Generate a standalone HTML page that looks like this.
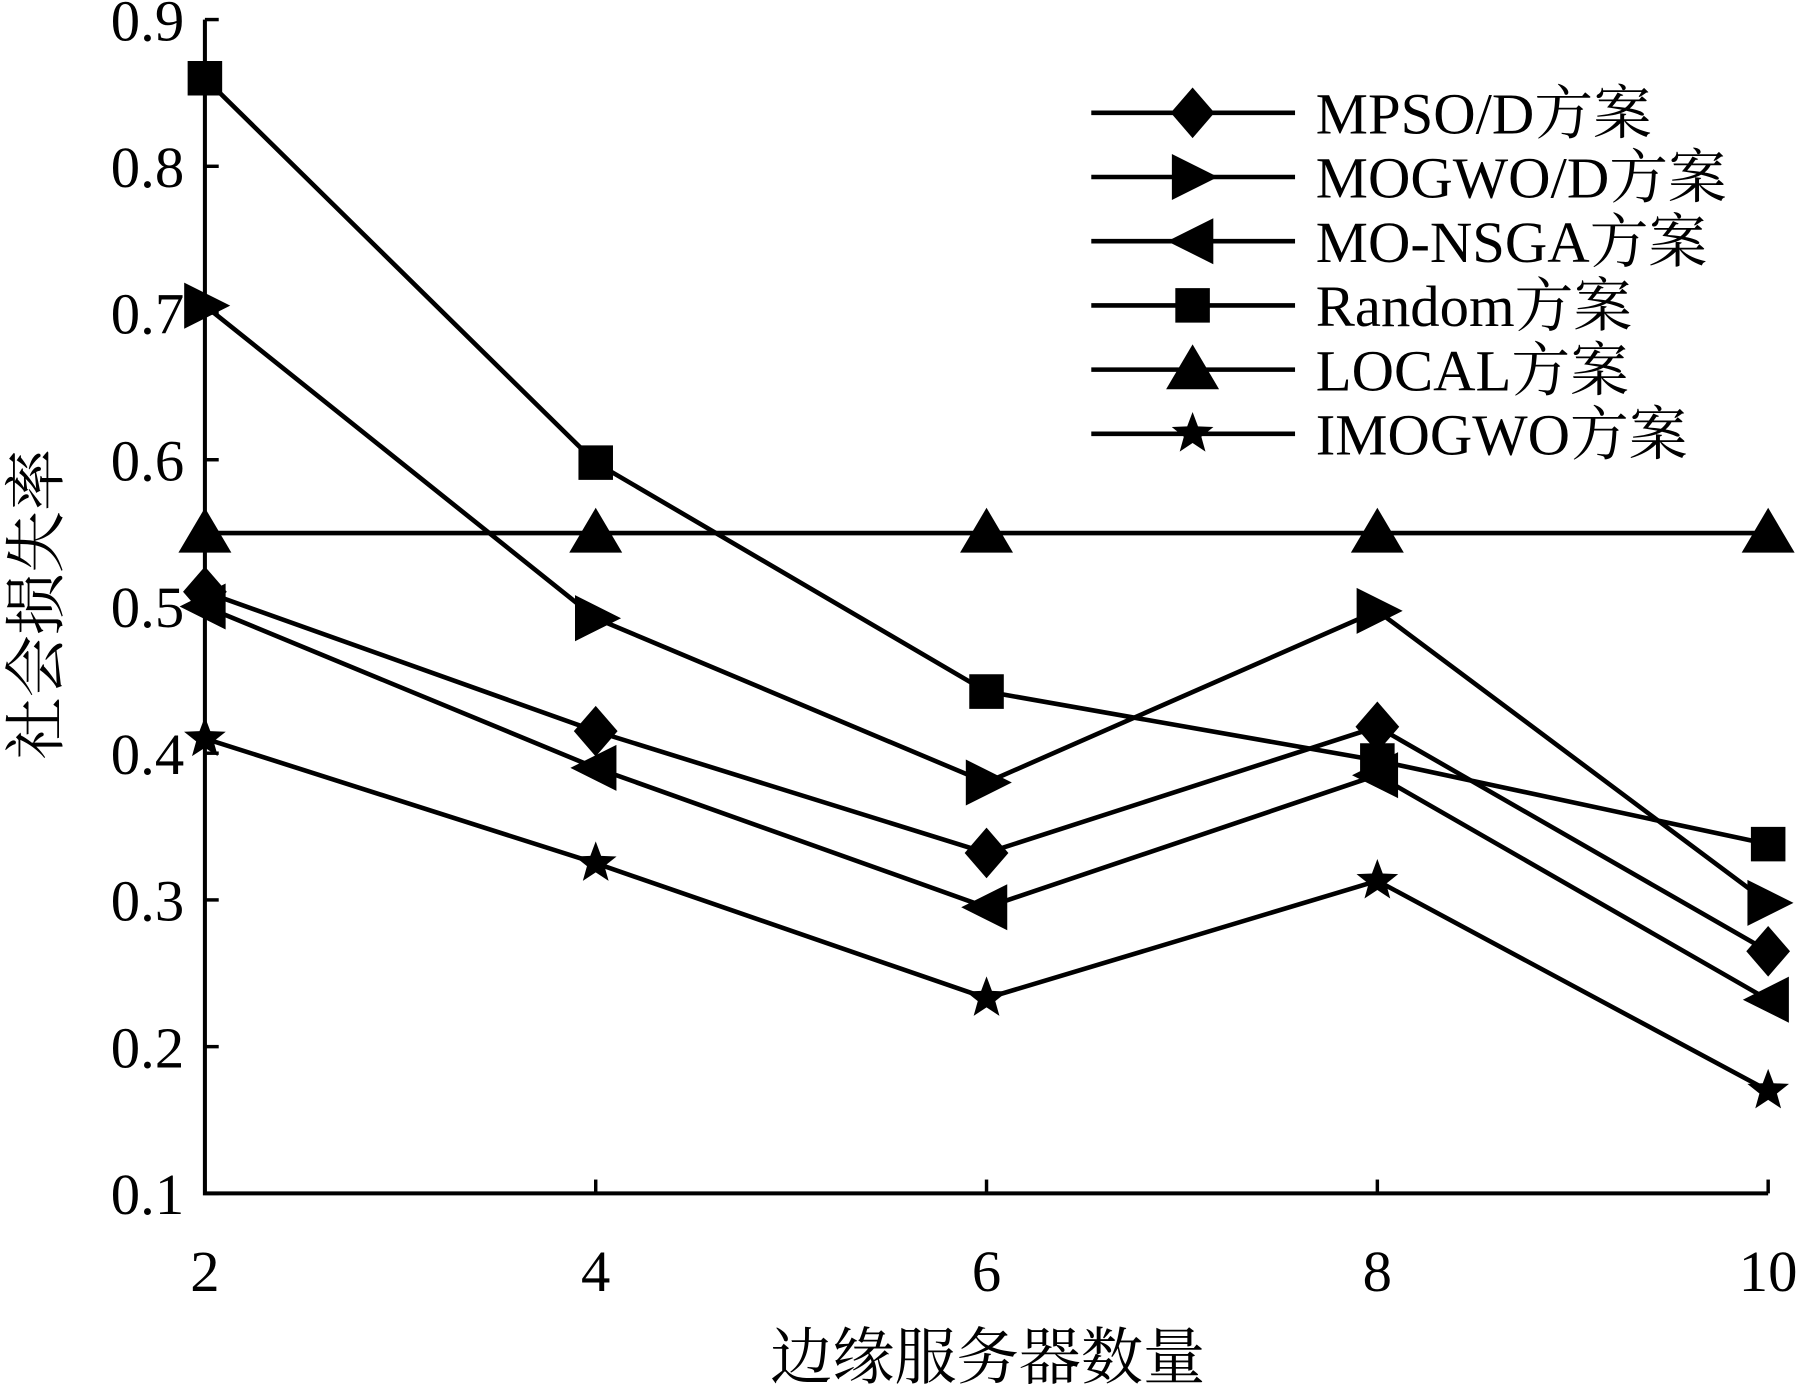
<!DOCTYPE html>
<html><head><meta charset="utf-8"><style>
html,body{margin:0;padding:0;background:#fff;}
svg text{font-family:"Liberation Serif","Noto Serif CJK SC","Noto Sans CJK SC",serif;fill:#000;}
</style></head><body>
<svg id="chart" width="1805" height="1389" viewBox="0 0 1568 1207" preserveAspectRatio="none" xmlns="http://www.w3.org/2000/svg">
<g id="axes"></g><g id="series"></g><g id="legend"></g>
<text transform="translate(50,525) rotate(-90)" text-anchor="middle" font-size="54">社会损失率</text>
<text x="858" y="1198" text-anchor="middle" font-size="54">边缘服务器数量</text>
</svg>
<script>
const categories=[2,4,6,8,10];
const seriesNames=["MPSO/D方案","MOGWO/D方案","MO-NSGA方案","Random方案","LOCAL方案","IMOGWO方案"];
const seriesMarkers=["diamond","right","left","square","triangle","star"];
const mpsoValues=[0.51,0.415,0.332,0.418,0.265];
const mogwoValues=[0.705,0.492,0.38,0.497,0.298];
const nsgaValues=[0.5,0.39,0.295,0.385,0.232];
const randomValues=[0.86,0.598,0.442,0.395,0.338];
const localValues=[0.55,0.55,0.55,0.55,0.55];
const imogwoValues=[0.41,0.325,0.233,0.313,0.17];
const yTicks=[0.1,0.2,0.3,0.4,0.5,0.6,0.7,0.8,0.9];
const xTicks=[2,4,6,8,10];
const allSeries=[mpsoValues,mogwoValues,nsgaValues,randomValues,localValues,imogwoValues];

const NS="http://www.w3.org/2000/svg";
const X=v=>178+(v-2)*(1536-178)/8;
const Y=v=>1037-(v-0.1)*(1037-17)/0.8;
function mk(tag,attrs,parent){const e=document.createElementNS(NS,tag);for(const k in attrs)e.setAttribute(k,attrs[k]);parent.appendChild(e);return e;}
const axes=document.getElementById('axes'),ser=document.getElementById('series'),leg=document.getElementById('legend');
let a=mk('path',{d:`M178 17 V1037 H1536`,fill:'none',stroke:'#000','stroke-width':3.5},axes);


yTicks.forEach(t=>{
 const tk=mk('line',{x1:178,x2:190,y1:Y(t),y2:Y(t),stroke:'#000','stroke-width':3},axes);
 
 
 const tx=mk('text',{x:160,y:Y(t)+18,'text-anchor':'end','font-size':51},axes);
 tx.textContent=t.toFixed(1);
 
 
});
xTicks.forEach(t=>{
 const tk=mk('line',{x1:X(t),x2:X(t),y1:1037,y2:1025,stroke:'#000','stroke-width':3},axes);
 
 
 const tx=mk('text',{x:X(t),y:1122,'text-anchor':'middle','font-size':51},axes);
 tx.textContent=t;
 
 
});
function marker(type,x,y,parent){
 let d;
 if(type==='diamond')d=`M${x} ${y-22}L${x+19} ${y}L${x} ${y+22}L${x-19} ${y}Z`;
 else if(type==='right')d=`M${x-18} ${y-20}L${x+22} ${y}L${x-18} ${y+20}Z`;
 else if(type==='left')d=`M${x+18} ${y-20}L${x-22} ${y}L${x+18} ${y+20}Z`;
 else if(type==='square')d=`M${x-15} ${y-15}h30v30h-30Z`;
 else if(type==='triangle')d=`M${x} ${y-22}L${x+23} ${y+17}L${x-23} ${y+17}Z`;
 else {let p=[];for(let i=0;i<10;i++){const r=i%2?8:19,ang=-Math.PI/2+i*Math.PI/5;p.push((x+r*Math.cos(ang)).toFixed(1)+' '+(y+r*Math.sin(ang)).toFixed(1));}d='M'+p.join('L')+'Z';}
 return mk('path',{d:d,fill:'#000'},parent);
}
allSeries.forEach((vals,i)=>{
 const g=mk('g',{},ser);
 
 
 const l=mk('polyline',{points:vals.map((v,j)=>X(categories[j])+','+Y(v)).join(' '),fill:'none',stroke:'#000','stroke-width':4},g);
 
 
 vals.forEach((v,j)=>{const m=marker(seriesMarkers[i],X(categories[j]),Y(v),g);
  
  });
});
seriesNames.forEach((n,i)=>{
 const y=98+i*55.8;
 const g=mk('g',{},leg);
 
 
 mk('line',{x1:948,x2:1125,y1:y,y2:y,stroke:'#000','stroke-width':4},g);
 marker(seriesMarkers[i],1036,y,g);
 const t=mk('text',{x:1143,y:y+18,'font-size':51},g);
 t.textContent=n;
});
</script>
</body></html>
